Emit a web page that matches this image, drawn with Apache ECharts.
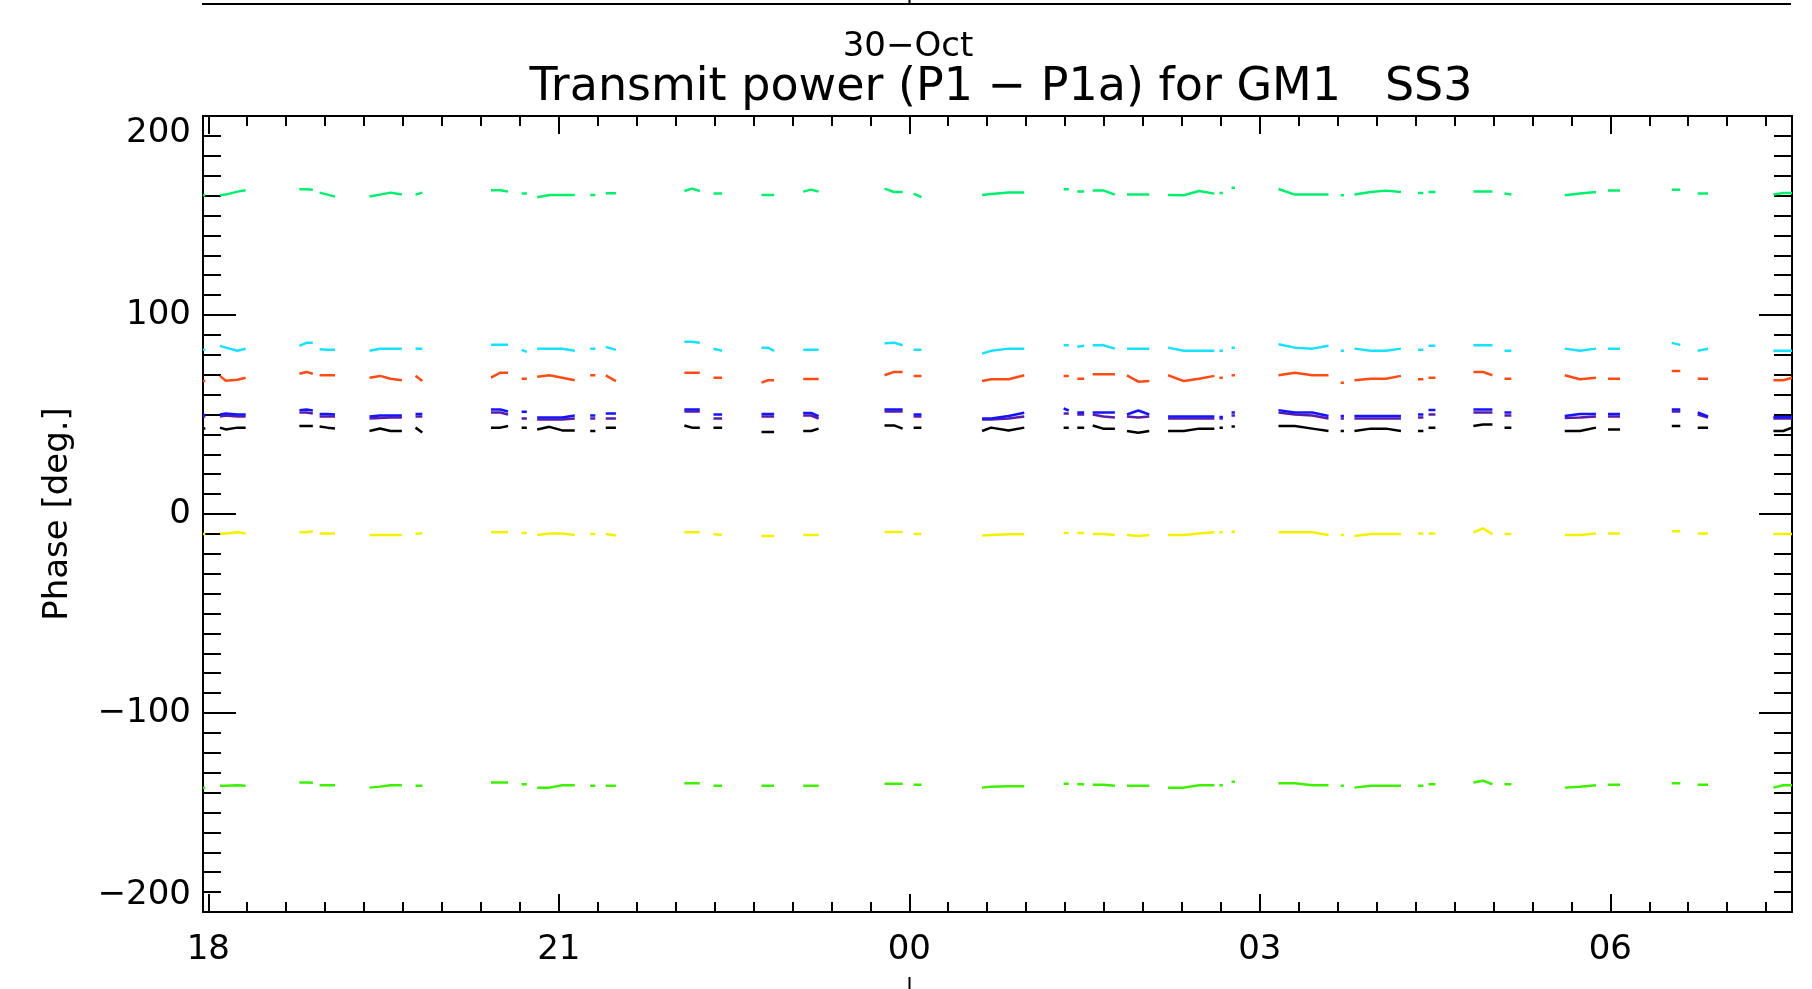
<!DOCTYPE html>
<html>
<head>
<meta charset="utf-8">
<title>Transmit power (P1 - P1a) for GM1 SS3</title>
<script src="https://cdn.jsdelivr.net/npm/echarts@6/dist/echarts.min.js"></script>
<style>
  html, body { margin: 0; padding: 0; background: #fff; }
  #chart { width: 1812px; height: 989px; }
</style>
</head>
<body>
<div id="chart"></div>
<script>
// time axis: hours relative to 30-Oct 00:00 (so -6 = 18:00 on 29-Oct)
const xMin = -6.045
const xMax = 7.555
const majorHours = [-6, -3, 0, 3, 6]

// sample times, grouped by contiguous pass (gaps between groups)
const pieceTimes = [
  [-6.045, -6.025],
  [-5.90, -5.85, -5.75, -5.68],
  [-5.22, -5.16, -5.105],
  [-5.047, -4.98, -4.915],
  [-4.62, -4.53, -4.44, -4.343],
  [-4.226, -4.168],
  [-3.58, -3.50, -3.434],
  [-3.318, -3.273],
  [-3.185, -3.08, -2.97, -2.863],
  [-2.731, -2.687],
  [-2.598, -2.511],
  [-1.925, -1.86, -1.793],
  [-1.676, -1.602],
  [-1.265, -1.21, -1.157],
  [-0.908, -0.84, -0.776],
  [-0.212, -0.13, -0.057],
  [0.037, 0.104],
  [0.623, 0.70, 0.85, 0.984],
  [1.321, 1.365],
  [1.438, 1.497],
  [1.570, 1.66, 1.760],
  [1.863, 1.96, 2.054],
  [2.215, 2.35, 2.48, 2.611],
  [2.655, 2.684],
  [2.758, 2.787],
  [3.160, 3.30, 3.45, 3.588],
  [3.692, 3.720],
  [3.810, 3.95, 4.08, 4.208],
  [4.354, 4.400],
  [4.444, 4.503],
  [4.828, 4.91, 4.991],
  [5.094, 5.153],
  [5.610, 5.74, 5.877],
  [5.980, 6.083],
  [6.526, 6.599],
  [6.748, 6.836],
  [7.396, 7.48, 7.555]
]

// phase values [deg.], same grouping as pieceTimes
const greenTop = [
  [160.2,160.2],[160.2,160.5,162,162.7],[163.2,163.2,163],[161.5,160.5,159.5],
  [159.5,160.5,161.5,160.5],[160.5,161.5],[162.7,162.7,162],[161,161],
  [159.2,160.3,160.3,160.3],[160.3,160.3],[161.2,161.2],[162.3,163.5,162.3],
  [161,161],[160.3,160.3,160.3],[162,163,162],[163.5,161.8,161.8],[161,159.2],
  [160.3,160.8,161.5,161.5],[163.2,163.2],[162,162],[162.6,162.6,160.5],
  [160.5,160.5,160.5],[160.3,160.2,162.3,161],[161.3,161.3],[164,164],
  [163.3,160.5,160.5,160.5],[160.2,160.2],[160.5,161.8,162.5,161.8],[161.3,161.3],
  [161.8,161.8],[162,162,162],[161,160.5],[160.2,161,161.8],[162.6,162.6],
  [163,163],[161,161],[160.5,161.3,161.3]
]
const cyan = [
  [82.5,82.5],[84.5,83.6,82,83],[84.5,86,86],[82.8,82.5,82.5],
  [82,83,83.1,83.1],[83,83],[85,85,85],[82.5,81.5],
  [83,83,83,82],[83,83],[84,82.5],[86.5,86.5,86],
  [83,82],[83.6,83.6,82],[82.5,82.5,82.5],[85.8,86.1,84.8],[82.5,82.5],
  [80.6,82,83.1,83.1],[84.8,84.8],[84,84.5],[84.8,84.8,83.1],
  [83.1,83.1,83.1],[83.6,82,82,82],[82,82],[83.5,83.5],
  [85.3,83.6,83.1,84.5],[82,82],[83.1,82,82,83.1],[82.5,82.5],
  [84.5,84.5],[84.8,84.8,84.8],[82,82],[83.1,82,83.1],[83.1,83.1],
  [86,85],[82,83],[82,82,82]
]
const red = [
  [66.8,66.8],[69.4,67,67.5,68.5],[70.5,71.4,70.5],[69.7,69.7,69.7],
  [68.5,69.4,68,67.2],[69.5,66.8],[68.5,71,71],[68,68],
  [69,69.7,68.5,67.2],[69.7,69.7],[69.7,66.8],[71,71,71],
  [68.5,68.5],[66,67.2,67.2],[67.8,67.8,67.8],[69.7,71.4,71.4],[69.4,69.4],
  [66.8,67.7,67.7,69.7],[69.4,69.4],[68,68],[70.2,70.2,70.2],
  [69.7,66.5,66.8],[69.7,66.8,68,69.4],[68.5,68.5],[69.7,69.7],
  [69.7,71,69.7,69.7],[66,66],[67.2,68,68,69.4],[67.7,67.7],
  [68.5,68.5],[71.4,71.4,69.7],[68,68],[69.7,67.7,68.5],[68,68],
  [71.9,71.9],[68,68],[67.2,67.2,68.5]
]
const blue = [
  [49.7,49.7],[50,50.5,50,50],[52.2,52.5,52],[50.3,50.3,50],
  [49,49.5,49.5,49.5],[50.3,50.3],[52.5,52.5,51.5],[51.4,51.4],
  [48.5,48.5,48.5,49.5],[49.5,49.5],[50.5,50.5],[52.5,52.5,52.5],
  [50,50],[50.3,50.3,50.3],[50.8,50.8,49.2],[52.5,52.5,52.5],[50,50],
  [48,48,49.2,50.9],[53,52],[51,51],[51,51,51],
  [50,52,50],[49,49,49,49],[48.8,48.8],[51,51],
  [52.2,51,51,49.2],[49.2,49.2],[49.2,49.2,49.2,49.2],[50,50],
  [52.2,52.2],[52.5,52.5,52.5],[51,51],[49.2,50.3,50.3],[50.3,50.3],
  [52.5,52.5],[51,49],[48.8,48.8,48.8]
]
const purple = [
  [49,49],[49,49.5,49,49],[51,51,50.5],[49,49,49],
  [48,48.2,48.5,48.5],[49,49],[51,51,50],[48,48],
  [47.5,47.5,47.5,48],[48,48],[48,48],[51.5,51.5,51.5],
  [48,48],[49,49,49],[49.5,49.5,48],[51.5,51.5,51.5],[49,49],
  [47.5,47.5,48,49],[50.5,50.5],[50,50],[50,49,48.5],
  [49,48.5,49],[48,48,48,48],[48,48],[49.5,49.5],
  [51,50,49.5,48],[48,48],[48,48,48,48],[48.5,48.5],
  [50,50],[51,51,51],[49.5,49.5],[48.2,48.5,49],[49,49],
  [51.5,51.5],[50,48.5],[48,48,48]
]
const black = [
  [43,43],[43.4,42.5,43.4,43.4],[44.2,44.2,44.2],[44,43.4,43],
  [41.7,43,41.7,41.7],[43.4,41],[43.4,43.4,44.2],[43.4,43.4],
  [42.5,43.8,42,42],[41.7,41.7],[43.4,43.4],[44.5,43.4,43.4],
  [43.4,43.4],[41.2,41.2,41.2],[41.7,41.7,42.9],[44.5,44.5,42.9],[43.4,43.4],
  [41.7,43.4,42,43.4],[43.4,43.4],[43.4,43.4],[44.5,42.9,42.9],
  [41.7,40.8,41.7],[41.7,41.7,42.9,42.9],[43.4,43.4],[44,44],
  [44.2,44.2,42.9,41.7],[41.7,41.7],[41.7,42.9,42.9,41.7],[41.7,41.7],
  [43.4,43.4],[44.2,45,45],[43.4,43.4],[41.7,41.7,43.4],[42.5,42.5],
  [44.2,44.2],[43.4,43.4],[41.7,41.7,43.4]
]
const yellow = [
  [-10.1,-10.1],[-9.8,-9.8,-9.2,-9.8],[-9.2,-9.2,-8.7],[-9.8,-9.8,-9.8],
  [-10.6,-10.6,-10.6,-10.6],[-10.1,-9.5],[-9.2,-9.2,-9.2],[-9.6,-9.6],
  [-10.6,-9.8,-9.8,-10.6],[-10.1,-10.1],[-10,-10.8],[-9.2,-9.2,-9.2],
  [-10,-10.5],[-11,-11,-11],[-10.5,-10.5,-10.5],[-9,-9,-9],[-10,-10],
  [-10.8,-10.5,-10.2,-10.2],[-9.5,-9.5],[-9.5,-9.5],[-10,-10,-10.5],
  [-10.5,-11,-10.5],[-10.6,-10.6,-9.8,-9.2],[-9.2,-9.2],[-8.9,-8.9],
  [-9.2,-9.2,-9.2,-10.5],[-10.6,-10.6],[-11,-10.1,-10.1,-10.1],[-9.8,-9.8],
  [-9.8,-9.8],[-9.2,-7.2,-10.1],[-10.1,-10.1],[-10.6,-10.6,-9.8],[-9.8,-9.8],
  [-8.7,-8.7],[-9.8,-9.8],[-10.1,-10.1,-10.1]
]
const greenLow = [
  [-137.5,-137.5],[-136.6,-136.6,-136.3,-136.6],[-134.9,-134.9,-135],[-136.3,-136.3,-136.3],
  [-137.5,-137,-136.3,-136.3],[-136.6,-136.6],[-134.9,-134.9,-134.9],[-135.8,-135.8],
  [-137.5,-137.5,-136.3,-136.3],[-136.6,-136.6],[-136.6,-136.6],[-135.3,-135.3,-135.3],
  [-136.5,-136.5],[-136.5,-136.5,-136.5],[-136.5,-136.5,-136.5],[-135.5,-135.5,-135.5],[-136,-136],
  [-137.5,-137,-136.8,-136.8],[-135.5,-135.5],[-135.8,-135.8],[-136,-136,-136.5],
  [-136.5,-136.5,-136.5],[-137.5,-137.5,-136.3,-136.3],[-136.3,-136.3],[-134.6,-134.6],
  [-135.3,-135.3,-136.3,-136.3],[-136.6,-136.6],[-137.5,-136.6,-136.6,-136.6],[-136.6,-136.6],
  [-135.8,-135.8],[-134.9,-134,-135.8],[-135.8,-135.8],[-137.5,-137,-136.3],[-136,-136],
  [-135.3,-135.3],[-136,-136],[-137.5,-136.3,-136.3]
]

const FONT = 'DejaVu Sans'

// minor ticks every 20 minutes
const minorHours = []
for (let k = Math.ceil(xMin * 3); k <= Math.floor(xMax * 3); k++) {
  minorHours.push(k / 3)
}

// join groups into one line, breaking it between groups
function buildData (values) {
  const out = []
  pieceTimes.forEach((ts, i) => {
    if (i > 0) out.push([ts[0], '-'])
    ts.forEach((t, j) => out.push([t, values[i][j]]))
  })
  return out
}

function hourLabel (h) {
  const v = Math.round(((h % 24) + 24) % 24)
  return (v < 10 ? '0' : '') + v
}

function makeSeries (name, values, color) {
  return {
    name: name,
    type: 'line',
    xAxisIndex: 0,
    yAxisIndex: 0,
    showSymbol: false,
    connectNulls: false,
    animation: false,
    lineStyle: { color: color, width: 2.5 },
    data: buildData(values)
  }
}

const axisLine = { show: true, onZero: false, lineStyle: { color: '#000', width: 2 } }

function xAxisOf (position, ticks, len, withLabel) {
  return {
    type: 'value',
    position: position,
    min: xMin,
    max: xMax,
    axisLine: withLabel || position === 'top' ? axisLine : { show: false, onZero: false },
    axisTick: { show: true, inside: true, length: len, customValues: ticks, lineStyle: { color: '#000', width: 2 } },
    axisLabel: withLabel ? {
      show: true,
      customValues: majorHours,
      formatter: hourLabel,
      color: '#000',
      fontFamily: FONT,
      fontSize: 34,
      margin: 21
    } : { show: false },
    splitLine: { show: false }
  }
}

function yAxisOf (position, withLabel) {
  return {
    type: 'value',
    position: position,
    min: -200,
    max: 200,
    interval: 100,
    name: withLabel ? 'Phase [deg.]' : '',
    nameLocation: 'middle',
    nameGap: 128,
    nameTextStyle: { color: '#000', fontFamily: FONT, fontSize: 34 },
    axisLine: axisLine,
    axisTick: { show: true, inside: true, length: 33, lineStyle: { color: '#000', width: 2 } },
    minorTick: { show: true, splitNumber: 10, length: 18, lineStyle: { color: '#000', width: 2 } },
    axisLabel: withLabel ? {
      show: true,
      color: '#000',
      fontFamily: FONT,
      fontSize: 34,
      margin: 12,
      formatter: v => String(v).replace('-', '\u2212'),
      verticalAlignMaxLabel: 'top',
      verticalAlignMinLabel: 'bottom'
    } : { show: false },
    splitLine: { show: false },
    minorSplitLine: { show: false }
  }
}

const chart = echarts.init(document.getElementById('chart'))
chart.setOption({
  backgroundColor: '#fff',
  animation: false,
  title: [
    {
      text: '30\u2212Oct',
      left: 903,
      top: 25,
      textAlign: 'center',
      textStyle: { color: '#000', fontFamily: FONT, fontWeight: 'normal', fontSize: 34 }
    },
    {
      text: 'Transmit power (P1 \u2212 P1a) for GM1   SS3',
      left: 996,
      top: 60,
      textAlign: 'center',
      textStyle: { color: '#000', fontFamily: FONT, fontWeight: 'normal', fontSize: 46 }
    }
  ],
  grid: { left: 203, top: 116, width: 1589, height: 796, containLabel: false },
  xAxis: [
    xAxisOf('bottom', majorHours, 18, true),
    xAxisOf('bottom', minorHours, 10, false),
    xAxisOf('top', majorHours, 18, false),
    xAxisOf('top', minorHours, 10, false)
  ],
  yAxis: [
    yAxisOf('left', true),
    yAxisOf('right', false)
  ],
  // bottom edge of the panel above and top of the one below
  graphic: [
    { type: 'line', shape: { x1: 202, y1: 4, x2: 1791, y2: 4 }, style: { stroke: '#000', lineWidth: 2 } },
    { type: 'line', shape: { x1: 909.5, y1: 0, x2: 909.5, y2: 4 }, style: { stroke: '#000', lineWidth: 2 } },
    { type: 'line', shape: { x1: 909.5, y1: 977, x2: 909.5, y2: 989 }, style: { stroke: '#000', lineWidth: 2 } }
  ],
  series: [
    makeSeries('ch1', greenTop, '#00f06e'),
    makeSeries('ch2', cyan, '#18e0ff'),
    makeSeries('ch3', red, '#ff4c14'),
    makeSeries('ch4', purple, '#5a1ca8'),
    makeSeries('ch5', blue, '#1414ff'),
    makeSeries('ch6', black, '#000000'),
    makeSeries('ch7', yellow, '#f2f200'),
    makeSeries('ch8', greenLow, '#3cf000')
  ]
})
window.addEventListener('resize', function () {
  chart.resize()
})
</script>
</body>
</html>
